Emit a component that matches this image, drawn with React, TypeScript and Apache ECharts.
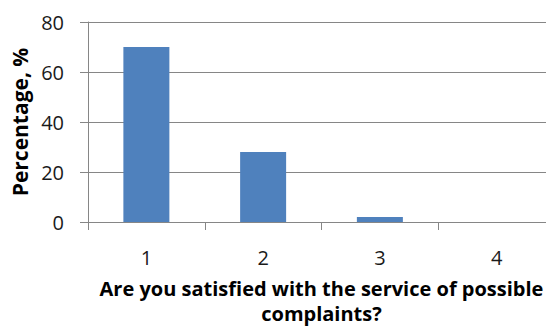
import React, { useEffect, useRef } from "react";
import * as echarts from "echarts";

// Survey answers and the share of respondents giving each
const categories = ["1", "2", "3", "4"];
const percentages = [70, 28, 2, 0];
const yTicks = { min: 0, max: 80, interval: 20 };
const xTitle = "Are you satisfied with the service of possible\ncomplaints?";
const yTitle = "Percentage, %";

const FONT = "'Open Sans', sans-serif";
const GRID_GREY = "#868686";
const BAR_BLUE = "#4f81bd";

export default function App() {
  const ref = useRef<HTMLDivElement>(null);

  useEffect(() => {
    if (!ref.current) return;
    const chart = echarts.init(ref.current, undefined, { renderer: "svg" });
    chart.setOption({
      animation: false,
      backgroundColor: "#ffffff",
      grid: {
        left: 88,
        right: -9,
        top: 22,
        bottom: 105,
        containLabel: false,
        outerBoundsMode: "none",
      },
      xAxis: {
        type: "category",
        data: categories,
        name: xTitle,
        nameLocation: "middle",
        nameGap: 54,
        nameTextStyle: {
          fontFamily: FONT,
          fontWeight: "bold",
          fontSize: 20,
          color: "#000",
          lineHeight: 25,
        },
        axisLine: { show: true, lineStyle: { color: GRID_GREY, width: 1 } },
        axisTick: { show: true, length: 8, lineStyle: { color: GRID_GREY } },
        axisLabel: {
          margin: 25,
          fontFamily: FONT,
          fontSize: 20,
          color: "#1a1a1a",
        },
      },
      yAxis: {
        type: "value",
        min: yTicks.min,
        max: yTicks.max,
        interval: yTicks.interval,
        name: yTitle,
        nameLocation: "middle",
        nameGap: 52,
        nameTextStyle: {
          fontFamily: FONT,
          fontWeight: "bold",
          fontSize: 21,
          color: "#000",
        },
        axisLine: { show: true, lineStyle: { color: GRID_GREY, width: 1 } },
        axisTick: { show: true, length: 8, lineStyle: { color: GRID_GREY } },
        splitLine: { show: true, lineStyle: { color: GRID_GREY, width: 1 } },
        axisLabel: {
          margin: 24,
          fontFamily: FONT,
          fontSize: 20,
          color: "#1a1a1a",
        },
      },
      series: [
        {
          type: "bar",
          data: percentages,
          barWidth: 46,
          itemStyle: { color: BAR_BLUE },
        },
      ],
    });
    return () => chart.dispose();
  }, []);

  return (
    <div
      ref={ref}
      style={{
        position: "absolute",
        left: 0,
        top: 0,
        width: 546,
        height: 327,
        background: "#ffffff",
      }}
    />
  );
}
